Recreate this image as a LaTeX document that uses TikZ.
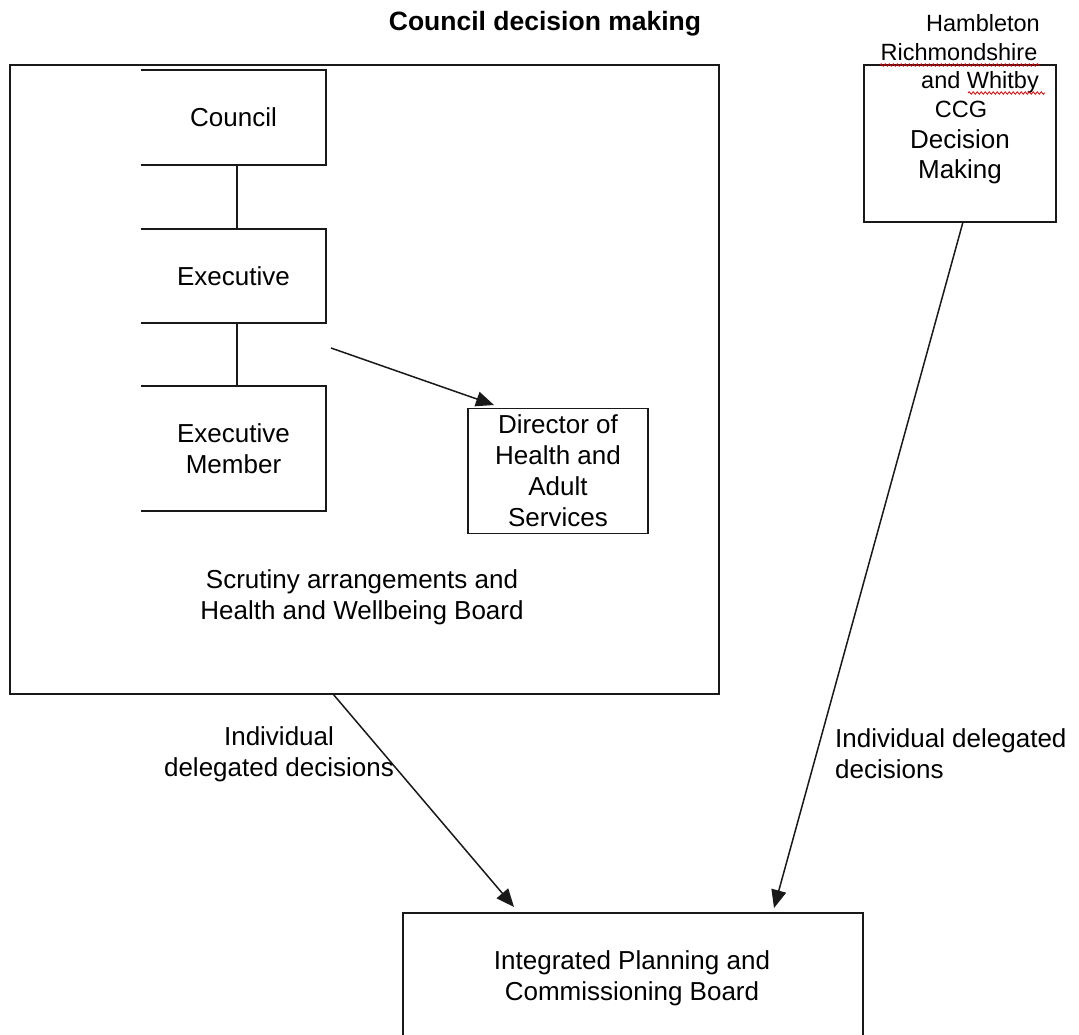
\documentclass[tikz,border=0pt]{standalone}
\usepackage{fontspec}
\setmainfont{Liberation Sans}
\usetikzlibrary{arrows.meta,decorations.pathmorphing}
\begin{document}
\begin{tikzpicture}[x=1pt,y=-1pt,
  line/.style={draw=black!90,line width=1.5pt},
  boxnode/.style={draw=none,inner sep=0pt,align=center,font=\fontsize{26}{31}\selectfont},
  lbl/.style={inner sep=0pt,align=center,font=\fontsize{26}{31}\selectfont},
  txt/.style={inner sep=0pt,anchor=base,font=\fontsize{26}{31}\selectfont},
  small/.style={inner sep=0pt,anchor=base,font=\fontsize{23.5}{29}\selectfont},
  arr/.style={line,-{Triangle[length=18pt,width=15pt]}},
  squig/.style={draw=red!85!black,line width=0.8pt,decorate,decoration={snake,amplitude=1.2pt,segment length=4pt}}
]
\useasboundingbox (0,0) rectangle (1079,1035);

% title
\node[lbl,font=\fontsize{26.5}{31}\selectfont\bfseries] (title) at (545,24) {Council decision making};

% outer council frame
\node[boxnode,minimum width=709pt,minimum height=629pt] (outer) at (364.5,379.5) {};
\draw[line] (outer.north west) rectangle (outer.south east);

% stacked boxes (open on the left)
\node[boxnode,minimum width=185pt,minimum height=95pt] (council) at (233.5,117.5) {Council};
\draw[line] (council.north west) -| (council.south east) -- (council.south west);

\node[boxnode,minimum width=185pt,minimum height=94pt] (exec) at (233.5,276) {Executive};
\draw[line] (exec.north west) -| (exec.south east) -- (exec.south west);

\node[boxnode,minimum width=185pt,minimum height=125pt] (member) at (233.5,448.5) {Executive\\Member};
\draw[line] (member.north west) -| (member.south east) -- (member.south west);

\draw[line] ([xshift=3.5pt]council.south) -- ([xshift=3.5pt]exec.north);
\draw[line] ([xshift=3.5pt]exec.south) -- ([xshift=3.5pt]member.north);

% director
\node[boxnode,minimum width=180pt,minimum height=125pt] (director) at (558,471) {Director of\\Health and\\Adult\\Services};
\draw[line] (director.north west) rectangle (director.south east);

\coordinate (ea) at (331,348);
\coordinate (eb) at (494,405);
\draw[arr] (ea) -- (eb);

% scrutiny text
\node[lbl] (scrutiny) at (362,597) {Scrutiny arrangements and\\Health and Wellbeing Board};

% CCG box
\node[boxnode,minimum width=192pt,minimum height=157pt] (ccg) at (960,143.5) {};
\draw[line] (ccg.north west) rectangle (ccg.south east);
\node[small] (ccg1) at (983,32) {Hambleton};
\node[small] (ccg2) at (959,61) {Richmondshire};
\node[small] (ccg3) at (980,89) {and Whitby};
\node[small] (ccg4) at (961,118) {CCG};
\node[txt] (ccg5) at (960,149) {Decision};
\node[txt] (ccg6) at (960,179) {Making};
\draw[squig] (880,65) -- (1040,65);
\draw[squig] (968,93) -- (1045,93);

% bottom board (open at the bottom)
\node[boxnode,minimum width=460pt,minimum height=122pt] (board) at (633,974) {};
\draw[line] (board.south west) |- (board.north east) -- (board.south east);
\node[lbl] (boardtext) at (632,978) {Integrated Planning and\\Commissioning Board};

% arrows to board
\coordinate (oa) at (333,694);
\coordinate (ob) at (514,907);
\draw[arr] (oa) -- (ob);
\coordinate (ca) at (963,222);
\coordinate (cb) at (774,908);
\draw[arr] (ca) -- (cb);

% labels
\node[lbl] (lblleft) at (279,754) {Individual\\delegated decisions};
\node[lbl,align=left,anchor=west] (lblright) at (835,754) {Individual delegated\\decisions};
\end{tikzpicture}
\end{document}
